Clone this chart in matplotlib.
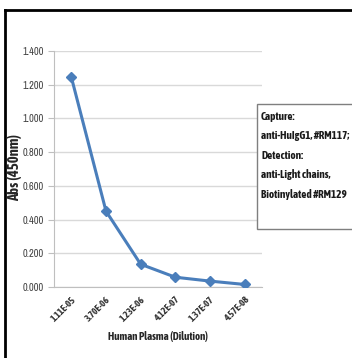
import matplotlib
matplotlib.use('Agg')
import matplotlib.pyplot as plt
from matplotlib.patches import Rectangle
from matplotlib.lines import Line2D

# data
dilutions = ['1.11E-05', '3.70E-06', '1.23E-06', '4.12E-07', '1.37E-07', '4.57E-08']
absorbance = [1.245, 0.45, 0.135, 0.058, 0.035, 0.015]
y_ticks = [0.0, 0.2, 0.4, 0.6, 0.8, 1.0, 1.2, 1.4]
legend_lines = ['Capture:', 'anti-HuIgG1, #RM117;', 'Detection:',
                'anti-Light chains,', 'Biotinylated #RM129']

plt.rcParams['font.family'] = ['Liberation Sans', 'DejaVu Sans']
narrow = ['Archivo Narrow', 'Liberation Sans', 'DejaVu Sans']
narrow_bold = ['Asap Condensed', 'Liberation Sans', 'DejaVu Sans']

W, H = 352, 358
fig = plt.figure(figsize=(W / 100, H / 100), dpi=100)
fig.patch.set_facecolor('white')

# outer frame (cut off on the right and bottom like the reference)
fig.add_artist(Line2D([5 / W, 5 / W], [0, 1 - 10 / H], color='black', lw=2,
                      transform=fig.transFigure))
fig.add_artist(Line2D([5 / W, 1], [1 - 10 / H, 1 - 10 / H], color='black', lw=2,
                      transform=fig.transFigure))

left, right, top, bottom = 54, 262, 51, 287
ax = fig.add_axes([left / W, 1 - bottom / H, (right - left) / W, (bottom - top) / H])

x = list(range(1, len(dilutions) + 1))
ax.plot(x, absorbance, color='#4a7ebb', lw=2.2, marker='D', markersize=5.5,
        markerfacecolor='#4a7ebb', markeredgecolor='#4a7ebb', zorder=3)

ax.set_xlim(0.5, len(dilutions) + 0.5)
ax.set_ylim(0, 1.4)
ax.set_yticks(y_ticks)
ax.set_yticklabels(['%.3f' % v for v in y_ticks], fontsize=7.5, color='#404040',
                   family=narrow)
ax.set_xticks(x)
ax.set_xticklabels(dilutions, rotation=45, ha='right', va='top', fontsize=7,
                   fontweight='bold', color='#333333', rotation_mode='anchor',
                   family=narrow_bold)
ax.tick_params(axis='x', length=0, pad=6)
ax.tick_params(axis='y', length=4, color='#bfbfbf', pad=3)

ax.grid(axis='y', color='#d9d9d9', lw=1)
ax.set_axisbelow(True)
for s in ['top', 'right']:
    ax.spines[s].set_visible(False)
ax.spines['left'].set_color('#bfbfbf')
ax.spines['bottom'].set_color('#bfbfbf')

fig.text(158 / W, 1 - 337 / H, 'Human Plasma (Dilution)', ha='center', va='center',
         fontsize=7.8, fontweight='bold', color='#262626', family=narrow_bold)
fig.text(15 / W, 1 - 168 / H, 'Abs (450nm)', ha='center', va='center', rotation=90,
         fontsize=10.5, fontweight='bold', color='#262626', family=narrow_bold)

# annotation box on the right
fig.add_artist(Rectangle((257 / W, 1 - 229 / H), 1 - 257 / W + 0.05, 125 / H,
                         transform=fig.transFigure, facecolor='white',
                         edgecolor='#7f7f7f', lw=1, zorder=5))
for i, t in enumerate(legend_lines):
    fig.text(261 / W, 1 - (116 + i * 19.5) / H, t, ha='left', va='center',
             fontsize=8, fontweight='bold', color='#1a1a1a', zorder=6,
             family=narrow_bold)

fig.savefig('out.png', dpi=100)
